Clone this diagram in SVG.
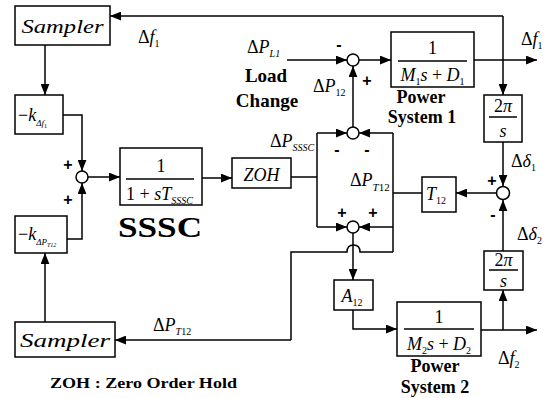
<svg xmlns="http://www.w3.org/2000/svg" width="550" height="398" viewBox="0 0 550 398">
<style>
.bx{fill:#fff;stroke:#000;stroke-width:1.5}
.ln{fill:none;stroke:#000;stroke-width:1.5}
.ar{fill:none;stroke:#000;stroke-width:1.5;marker-end:url(#ah)}
.sj{fill:#fff;stroke:#000;stroke-width:1.5}
.m{font-family:"Liberation Serif","Times New Roman",serif;font-size:18px;fill:#000}
.i{font-style:italic}
.b{font-family:"Liberation Serif","Times New Roman",serif;font-weight:bold;fill:#000}
.sg{font-family:"Liberation Sans",Arial,sans-serif;font-weight:bold;font-size:16px;fill:#000}
</style>
<defs>
<marker id="ah" viewBox="0 0 10 8" refX="10" refY="4" markerWidth="11" markerHeight="9" orient="auto" markerUnits="userSpaceOnUse">
<path d="M0,0 L10,4 L0,8 z" fill="#000"/>
</marker>
</defs>
<rect width="550" height="398" fill="#fff"/>

<g id="connectors">
<polyline class="ar" points="503,16 110,16"/>
<polyline class="ar" points="503,16 503,95"/>
<polyline class="ar" points="45,45 45,95"/>
<polyline class="ar" points="63,115 82,115 82,171"/>
<polyline class="ar" points="67,239 82,239 82,183"/>
<polyline class="ar" points="45,322 45,253"/>
<polyline class="ar" points="88,177 120,177"/>
<polyline class="ar" points="202,178 232,178"/>
<polyline class="ln" points="291,177 317,177"/>
<polyline class="ln" points="317,133 317,227"/>
<polyline class="ar" points="317,133 347,133"/>
<polyline class="ar" points="317,227 347,227"/>
<polyline class="ln" points="393,133 393,252"/>
<polyline class="ar" points="393,133 359,133"/>
<polyline class="ar" points="393,227 359,227"/>
<polyline class="ln" points="422,193 393,193"/>
<polyline class="ar" points="353,127 353,66"/>
<polyline class="ar" points="287,60 347,60"/>
<polyline class="ar" points="359,60 391,60"/>
<polyline class="ar" points="474,60 537,60"/>
<polyline class="ar" points="503,142 503,186"/>
<polyline class="ar" points="496,193 456,193"/>
<polyline class="ar" points="503,251 503,200"/>
<polyline class="ar" points="503,330 503,290"/>
<polyline class="ar" points="353,233 353,280"/>
<polyline class="ar" points="353,310 353,329 397,329"/>
<polyline class="ar" points="481,330 537,330"/>
<path class="ln" d="M393,252 H360 Q360,245 353.5,245 Q347,245 347,252 H291 V340"/>
<polyline class="ar" points="291,340 115,340"/>
</g>

<g id="sampler1">
<rect class="bx" x="15" y="6" width="95" height="39"/>
<text class="m i" x="62.5" y="33" font-size="23" text-anchor="middle" textLength="82" lengthAdjust="spacingAndGlyphs">Sampler</text>
</g>
<g id="gain1">
<rect class="bx" x="15" y="95" width="48" height="39"/>
<text class="m" x="18" y="121" font-size="22">−<tspan class="i">k</tspan><tspan class="i" font-size="9" dy="5">Δf</tspan><tspan font-size="6" dy="2">1</tspan></text>
</g>
<g id="gain2">
<rect class="bx" x="15" y="216" width="52" height="37"/>
<text class="m" x="18" y="240" font-size="22">−<tspan class="i">k</tspan><tspan class="i" font-size="9" dy="5">ΔP</tspan><tspan class="i" font-size="6" dy="2">T12</tspan></text>
</g>
<g id="sampler2">
<rect class="bx" x="15" y="322" width="100" height="35"/>
<text class="m i" x="65" y="347" font-size="23" text-anchor="middle" textLength="90" lengthAdjust="spacingAndGlyphs">Sampler</text>
</g>
<g id="sum1">
<circle class="sj" cx="82" cy="177" r="6"/>
<text class="sg" x="68" y="170" text-anchor="middle">+</text>
<text class="sg" x="68" y="205" text-anchor="middle">+</text>
</g>
<g id="sssc">
<rect class="bx" x="120" y="148" width="82" height="57"/>
<text class="m" x="161" y="172" text-anchor="middle">1</text>
<line class="ln" x1="126" y1="179" x2="194" y2="179" stroke-width="1"/>
<text class="m" x="126" y="200">1 + <tspan class="i">sT</tspan><tspan class="i" font-size="10" dy="4">SSSC</tspan></text>
</g>
<g id="zoh">
<rect class="bx" x="232" y="158" width="59" height="30"/>
<text class="m i" x="261.5" y="181" font-size="21" text-anchor="middle">ZOH</text>
</g>
<g id="sum2">
<circle class="sj" cx="353" cy="133" r="6"/>
<text class="sg" x="337" y="155" text-anchor="middle">-</text>
<text class="sg" x="367" y="155" text-anchor="middle">-</text>
</g>
<g id="sum3">
<circle class="sj" cx="353" cy="227" r="6"/>
<text class="sg" x="342" y="218" text-anchor="middle">+</text>
<text class="sg" x="373" y="218" text-anchor="middle">+</text>
</g>
<g id="sum4">
<circle class="sj" cx="353" cy="60" r="6"/>
<text class="sg" x="339" y="50" text-anchor="middle">-</text>
<text class="sg" x="367" y="86" text-anchor="middle">+</text>
</g>
<g id="ps1">
<rect class="bx" x="391" y="32" width="83" height="55"/>
<text class="m" x="432.5" y="54" text-anchor="middle">1</text>
<line class="ln" x1="398" y1="61" x2="467" y2="61" stroke-width="1"/>
<text class="m" x="432.5" y="81" text-anchor="middle"><tspan class="i">M</tspan><tspan font-size="10" dy="4">1</tspan><tspan class="i" dy="-4">s</tspan> + <tspan class="i">D</tspan><tspan font-size="10" dy="4">1</tspan></text>
</g>
<g id="int1">
<rect class="bx" x="484" y="95" width="38" height="47"/>
<text class="m" x="503" y="112" text-anchor="middle">2<tspan class="i">π</tspan></text>
<line class="ln" x1="489" y1="117" x2="517" y2="117" stroke-width="1"/>
<text class="m i" x="503" y="137" text-anchor="middle">s</text>
</g>
<g id="sum5">
<circle class="sj" cx="503" cy="193" r="6.5"/>
<text class="sg" x="492" y="186" text-anchor="middle">+</text>
<text class="sg" x="493" y="220" text-anchor="middle">-</text>
</g>
<g id="t12">
<rect class="bx" x="422" y="177" width="34" height="35"/>
<text class="m i" x="436" y="200" font-size="19" text-anchor="middle">T<tspan font-style="normal" font-size="10" dy="4">12</tspan></text>
</g>
<g id="int2">
<rect class="bx" x="484" y="251" width="39" height="39"/>
<text class="m" x="503.5" y="266" text-anchor="middle">2<tspan class="i">π</tspan></text>
<line class="ln" x1="489" y1="270" x2="518" y2="270" stroke-width="1"/>
<text class="m i" x="503.5" y="287" text-anchor="middle">s</text>
</g>
<g id="a12">
<rect class="bx" x="334" y="280" width="39" height="30"/>
<text class="m i" x="352" y="302" font-size="19" text-anchor="middle">A<tspan font-style="normal" font-size="10" dy="4">12</tspan></text>
</g>
<g id="ps2">
<rect class="bx" x="397" y="302" width="84" height="54"/>
<text class="m" x="439" y="323" text-anchor="middle">1</text>
<line class="ln" x1="404" y1="329" x2="474" y2="329" stroke-width="1"/>
<text class="m" x="439" y="350" text-anchor="middle"><tspan class="i">M</tspan><tspan font-size="10" dy="4">2</tspan><tspan class="i" dy="-4">s</tspan> + <tspan class="i">D</tspan><tspan font-size="10" dy="4">2</tspan></text>
</g>

<g id="labels">
<text class="m" x="138" y="43">Δ<tspan class="i">f</tspan><tspan font-size="10" dy="4">1</tspan></text>
<text class="m" x="247" y="53">Δ<tspan class="i">P</tspan><tspan class="i" font-size="10" dy="4">L1</tspan></text>
<text class="b" x="266" y="82" font-size="19" text-anchor="middle">Load</text>
<text class="b" x="267" y="107" font-size="19" text-anchor="middle">Change</text>
<text class="m" x="313" y="92">Δ<tspan class="i">P</tspan><tspan font-size="10" dy="4">12</tspan></text>
<text class="b" x="421" y="103" font-size="18" text-anchor="middle">Power</text>
<text class="b" x="422" y="123" font-size="18" text-anchor="middle">System 1</text>
<text class="m" x="521" y="45">Δ<tspan class="i">f</tspan><tspan font-size="10" dy="4">1</tspan></text>
<text class="m" x="511" y="167">Δ<tspan class="i">δ</tspan><tspan font-size="10" dy="4">1</tspan></text>
<text class="m" x="517" y="240">Δ<tspan class="i">δ</tspan><tspan font-size="10" dy="4">2</tspan></text>
<text class="m" x="270" y="147">Δ<tspan class="i">P</tspan><tspan class="i" font-size="10" dy="4">SSSC</tspan></text>
<text class="m" x="350" y="186">Δ<tspan class="i">P</tspan><tspan class="i" font-size="11" dy="5">T</tspan><tspan font-size="11">12</tspan></text>
<text class="b" x="160" y="237" font-size="29" text-anchor="middle" textLength="84" lengthAdjust="spacingAndGlyphs">SSSC</text>
<text class="m" x="153" y="331">Δ<tspan class="i">P</tspan><tspan class="i" font-size="10" dy="4">T</tspan><tspan font-size="10">12</tspan></text>
<text class="m" x="498" y="364">Δ<tspan class="i">f</tspan><tspan font-size="10" dy="4">2</tspan></text>
<text class="b" x="435" y="372" font-size="18" text-anchor="middle">Power</text>
<text class="b" x="435" y="393" font-size="18" text-anchor="middle">System 2</text>
<text class="b" x="50" y="388" font-size="14" textLength="187" lengthAdjust="spacingAndGlyphs">ZOH : Zero Order Hold</text>
</g>
</svg>
